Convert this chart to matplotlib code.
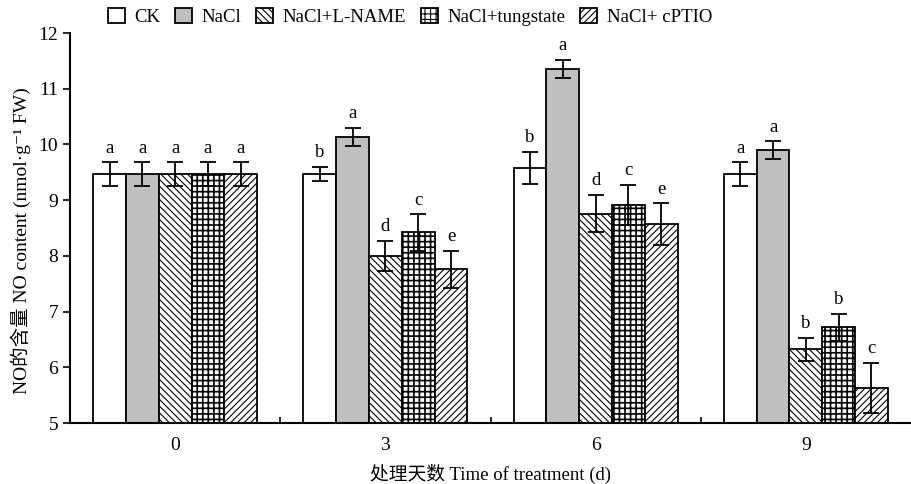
import numpy as np
import matplotlib
matplotlib.use("Agg")
import matplotlib.pyplot as plt

# ============================================================
# DATA
# ============================================================

days = ["0", "3", "6", "9"]
treatments = ["CK", "NaCl", "NaCl+L-NAME", "NaCl+tungstate", "NaCl+ cPTIO"]

ck = [9.47, 9.47, 9.58, 9.47]
nacl = [9.47, 10.14, 11.36, 9.90]
lname = [9.47, 8.00, 8.76, 6.32]
tung = [9.47, 8.42, 8.92, 6.72]
cptio = [9.47, 7.76, 8.57, 5.63]

ck_err = [0.21, 0.13, 0.29, 0.21]
nacl_err = [0.21, 0.16, 0.16, 0.16]
lname_err = [0.21, 0.27, 0.34, 0.21]
tung_err = [0.21, 0.33, 0.36, 0.24]
cptio_err = [0.21, 0.33, 0.37, 0.45]

ck_sig = ["a", "b", "b", "a"]
nacl_sig = ["a", "a", "a", "a"]
lname_sig = ["a", "d", "d", "b"]
tung_sig = ["a", "c", "c", "b"]
cptio_sig = ["a", "e", "e", "c"]

values = [ck, nacl, lname, tung, cptio]
errors = [ck_err, nacl_err, lname_err, tung_err, cptio_err]
letters = [ck_sig, nacl_sig, lname_sig, tung_sig, cptio_sig]

# ============================================================
# STYLE
# ============================================================

plt.rcParams['font.family'] = ['Liberation Serif', 'Noto Sans CJK SC', 'DejaVu Sans']
plt.rcParams['hatch.linewidth'] = 0.8

faces = ['white', '#c0c0c0', 'white', 'white', 'white']
hatches = [None, None, '\\\\\\\\\\', '+++', '/////']
hatch_lw = [0.8, 0.8, 0.8, 1.2, 0.8]

# ============================================================
# PLOT
# ============================================================

fig = plt.figure(figsize=(9.11, 4.84), dpi=100)
ax = fig.add_axes([70 / 911, 61 / 484, 841 / 911, 390 / 484])

x = np.arange(len(days))
w = 0.156

for i in range(len(treatments)):

    pos = x + (i - 2) * w

    bars = ax.bar(
        pos,
        values[i],
        width=w,
        bottom=0,
        color=faces[i],
        edgecolor='black',
        linewidth=1.3,
        hatch=hatches[i],
        label=treatments[i],
        zorder=2
    )

    for b in bars:
        if hasattr(b, 'set_hatch_linewidth'):
            b.set_hatch_linewidth(hatch_lw[i])

    ax.errorbar(
        pos,
        values[i],
        yerr=errors[i],
        fmt='none',
        ecolor='black',
        elinewidth=1.3,
        capsize=6,
        capthick=1.3,
        zorder=3
    )

    for xp, v, e, s in zip(pos, values[i], errors[i], letters[i]):
        ax.annotate(
            s,
            (xp, v + e),
            xytext=(0, 4),
            textcoords='offset points',
            ha='center',
            va='bottom',
            fontsize=13.5
        )

ax.set_xlim(-0.5, 3.5)
ax.set_ylim(5, 12)

ax.set_xticks(x)
ax.set_xticklabels(days, fontsize=14)
ax.set_xticks([0.5, 1.5, 2.5], minor=True)
ax.tick_params(axis='x', which='major', length=0, pad=10)
ax.tick_params(axis='x', which='minor', direction='in', length=4, width=1.2)

ax.set_yticks(np.arange(5, 13, 1))
ax.tick_params(axis='y', direction='out', length=5, width=1.2, labelsize=14)

ax.spines['top'].set_visible(False)
ax.spines['right'].set_visible(False)
ax.spines['left'].set_linewidth(1.5)
ax.spines['bottom'].set_linewidth(1.5)

ax.set_ylabel("NO的含量 NO content (nmol·g⁻¹ FW)", fontsize=14)
ax.yaxis.set_label_coords(-0.046, 0.467)
ax.set_xlabel("处理天数 Time of treatment (d)", fontsize=13.5, labelpad=7)

fig.legend(
    loc='center',
    bbox_to_anchor=(410 / 911, 1 - 17 / 484),
    ncol=5,
    frameon=False,
    fontsize=13.5,
    handlelength=0.9,
    handleheight=0.9,
    handletextpad=0.5,
    columnspacing=0.8,
    borderpad=0
)

fig.savefig("out.png", dpi=100)
